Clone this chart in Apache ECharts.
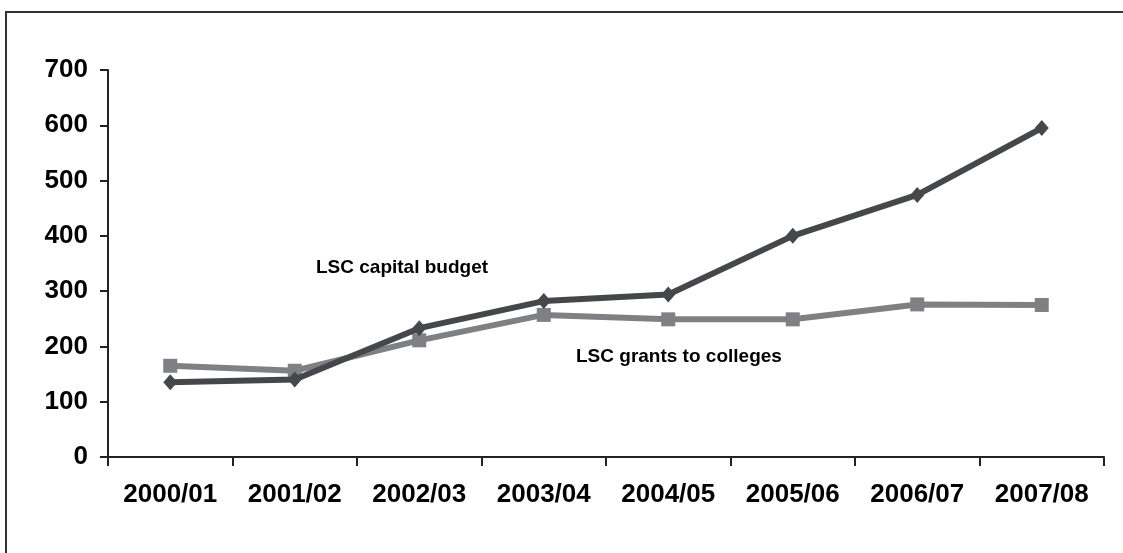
<!DOCTYPE html>
<html>
<head>
<meta charset="utf-8">
<script src="https://cdn.jsdelivr.net/npm/echarts@6/dist/echarts.min.js"></script>
<style>
  html, body { margin: 0; padding: 0; background: #fff; }
  #chart { width: 1123px; height: 553px; }
</style>
</head>
<body>
<div id="chart"></div>
<script>
// Financial years on the category axis
const years = ['2000/01', '2001/02', '2002/03', '2003/04', '2004/05', '2005/06', '2006/07', '2007/08'];
// LSC capital budget (£ million)
const capitalBudget = [135, 140, 233, 282, 294, 400, 474, 595];
// LSC grants to colleges (£ million)
const grantsToColleges = [165, 156, 211, 257, 249, 249, 276, 275];
// Value axis ticks
const yTicks = [0, 100, 200, 300, 400, 500, 600, 700];

const darkGrey = '#45484b';
const midGrey = '#7e8083';
const fontFamily = '"Liberation Sans", Arial, sans-serif';

const chart = echarts.init(document.getElementById('chart'), null, { renderer: 'canvas' });

chart.setOption({
  backgroundColor: '#ffffff',
  animation: false,
  grid: { left: 108, right: 19, top: 70, bottom: 96 },
  xAxis: {
    type: 'category',
    data: years,
    boundaryGap: true,
    axisLine: { lineStyle: { color: '#222', width: 2 } },
    axisTick: { show: true, length: 9, lineStyle: { color: '#222', width: 2 } },
    axisLabel: {
      margin: 25,
      color: '#000',
      fontFamily: fontFamily,
      fontWeight: 'bold',
      fontSize: 26
    },
    splitLine: { show: false }
  },
  yAxis: {
    type: 'value',
    min: yTicks[0],
    max: yTicks[yTicks.length - 1],
    interval: yTicks[1] - yTicks[0],
    axisLine: { show: true, lineStyle: { color: '#222', width: 2 } },
    axisTick: { show: true, length: 8, lineStyle: { color: '#222', width: 2 } },
    axisLabel: {
      margin: 20,
      color: '#000',
      fontFamily: fontFamily,
      fontWeight: 'bold',
      fontSize: 26
    },
    splitLine: { show: false }
  },
  series: [
    {
      name: 'LSC grants to colleges',
      type: 'line',
      data: grantsToColleges,
      symbol: 'rect',
      symbolSize: 14,
      showAllSymbol: true,
      lineStyle: { color: midGrey, width: 6 },
      itemStyle: { color: midGrey },
      z: 2
    },
    {
      name: 'LSC capital budget',
      type: 'line',
      data: capitalBudget,
      symbol: 'diamond',
      symbolSize: [14, 16],
      showAllSymbol: true,
      lineStyle: { color: darkGrey, width: 6 },
      itemStyle: { color: darkGrey },
      z: 3
    }
  ],
  graphic: [
    // chart frame (top and left edges)
    {
      type: 'polyline',
      shape: { points: [[6, 553], [6, 12], [1123, 12]] },
      style: { stroke: '#333', lineWidth: 2, fill: null },
      silent: true
    },
    {
      type: 'text',
      left: 316,
      top: 258,
      style: {
        text: 'LSC capital budget',
        fill: '#000',
        font: 'bold 19px "Liberation Sans", Arial, sans-serif'
      }
    },
    {
      type: 'text',
      left: 576,
      top: 347,
      style: {
        text: 'LSC grants to colleges',
        fill: '#000',
        font: 'bold 19px "Liberation Sans", Arial, sans-serif'
      }
    }
  ]
});
</script>
</body>
</html>
